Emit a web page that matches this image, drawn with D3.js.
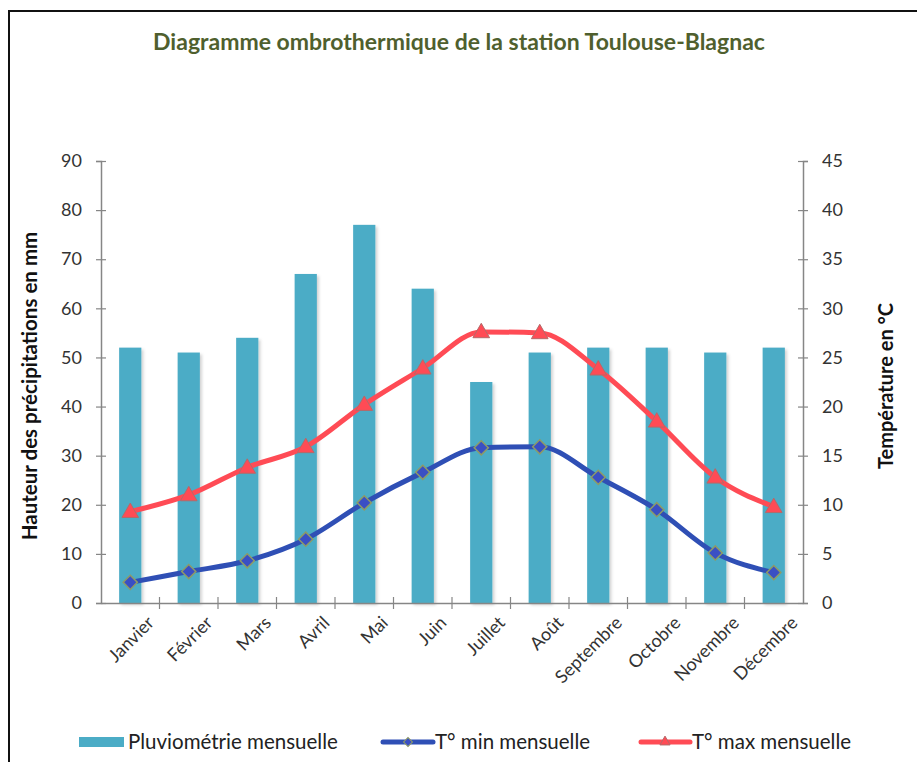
<!DOCTYPE html>
<html>
<head>
<meta charset="utf-8">
<script src="https://cdn.jsdelivr.net/npm/d3@7"></script>
<style>
  body { margin: 0; background: #fff; }
  svg text { font-family: Lato, "Open Sans", sans-serif; }
</style>
</head>
<body>
<div id="chart"></div>
<script>
// Data
const months = ['Janvier', 'Février', 'Mars', 'Avril', 'Mai', 'Juin', 'Juillet', 'Août', 'Septembre', 'Octobre', 'Novembre', 'Décembre'];
const rain = [52, 51, 54, 67, 77, 64, 45, 51, 52, 52, 51, 52];
const tMin = [2.1, 3.2, 4.3, 6.5, 10.2, 13.3, 15.8, 15.9, 12.8, 9.5, 5.1, 3.1];
const tMax = [9.3, 11, 13.8, 15.9, 20.2, 23.9, 27.6, 27.5, 23.8, 18.5, 12.8, 9.8];
const rainTicks = [0, 10, 20, 30, 40, 50, 60, 70, 80, 90];
const tempTicks = [0, 5, 10, 15, 20, 25, 30, 35, 40, 45];

const width = 917;
const height = 762;
const margin = {top: 161, right: 114, bottom: 159, left: 101};

const svg = d3.select('#chart')
  .append('svg')
    .attr('width', width)
    .attr('height', height);

const defs = svg.append('defs');
const shadow = defs.append('filter')
    .attr('id', 'shadow')
    .attr('x', '-30%').attr('y', '-10%')
    .attr('width', '160%').attr('height', '120%');
shadow.append('feDropShadow')
    .attr('dx', 2).attr('dy', 2)
    .attr('stdDeviation', 1.5)
    .attr('flood-color', '#000')
    .attr('flood-opacity', 0.18);

// frame
svg.append('path')
    .attr('d', `M9,${height} V11 H${width}`)
    .attr('fill', 'none')
    .attr('stroke', '#111')
    .attr('stroke-width', 2);

// title
svg.append('text')
    .attr('x', 459)
    .attr('y', 50)
    .attr('text-anchor', 'middle')
    .attr('fill', '#4f5f2e')
    .style('font-size', '23px')
    .style('font-weight', 700)
    .text('Diagramme ombrothermique de la station Toulouse-Blagnac');

const xScale = d3.scaleBand()
  .domain(months)
  .range([margin.left, width - margin.right]);

const yRain = d3.scaleLinear()
  .domain([0, 90])
  .range([height - margin.bottom, margin.top]);

const yTemp = d3.scaleLinear()
  .domain([0, 45])
  .range([height - margin.bottom, margin.top]);

// bars
const barW = xScale.bandwidth() * 0.38;
svg.append('g')
    .attr('class', 'bars')
    .attr('filter', 'url(#shadow)')
  .selectAll('rect')
  .data(rain)
  .join('rect')
    .attr('x', (d, i) => xScale(months[i]) + xScale.bandwidth() / 2 - barW / 2)
    .attr('y', d => yRain(d))
    .attr('width', barW)
    .attr('height', d => yRain(0) - yRain(d))
    .attr('fill', '#4bacc6');

// axes
const axisColor = '#868686';
const leftAxis = svg.append('g')
    .attr('transform', `translate(${margin.left},0)`)
    .call(d3.axisLeft(yRain).tickValues(rainTicks).tickSize(5).tickPadding(14));
const rightAxis = svg.append('g')
    .attr('transform', `translate(${width - margin.right},0)`)
    .call(d3.axisRight(yTemp).tickValues(tempTicks).tickSize(5).tickPadding(14));
const bottomAxis = svg.append('g')
    .attr('transform', `translate(0,${height - margin.bottom})`)
    .call(d3.axisBottom(xScale).tickSize(0).tickFormat(''));

[leftAxis, rightAxis].forEach(g => {
  g.select('.domain').attr('stroke', axisColor).attr('stroke-width', 1.5);
  g.selectAll('.tick line').attr('stroke', axisColor).attr('x1', -5).attr('x2', 5).attr('stroke-width', 1.2);
  g.selectAll('.tick text')
      .attr('fill', '#333')
      .style('font-size', '18px');
});
bottomAxis.select('.domain').attr('stroke', axisColor).attr('stroke-width', 1.5);

// category separator ticks on the x axis
const sepTicks = d3.range(1, months.length).map(i => xScale(months[i]));
bottomAxis.selectAll('.sep')
  .data(sepTicks)
  .join('line')
    .attr('class', 'sep')
    .attr('x1', d => d).attr('x2', d => d)
    .attr('y1', -6).attr('y2', 6)
    .attr('stroke', axisColor)
    .attr('stroke-width', 1.2);

// month labels
svg.append('g')
  .selectAll('text')
  .data(months)
  .join('text')
    .attr('transform', d => `translate(${xScale(d) + xScale.bandwidth() / 2 + 16},${height - margin.bottom + 12}) rotate(-45)`)
    .attr('text-anchor', 'end')
    .attr('dy', '0.7em')
    .attr('fill', '#333')
    .style('font-size', '18px')
    .text(d => d);

// axis titles
svg.append('text')
    .attr('transform', `translate(37,${(yRain(0) + yRain(90)) / 2 + 4}) rotate(-90)`)
    .attr('text-anchor', 'middle')
    .attr('fill', '#111')
    .style('font-size', '20.5px')
    .style('font-weight', 700)
    .text('Hauteur des précipitations en mm');
svg.append('text')
    .attr('transform', `translate(893,${(yTemp(0) + yTemp(45)) / 2 + 4}) rotate(-90)`)
    .attr('text-anchor', 'middle')
    .attr('fill', '#111')
    .style('font-size', '20px')
    .style('font-weight', 700)
    .text('Température en °C');

// temperature lines
const cx = i => xScale(months[i]) + xScale.bandwidth() / 2;
const line = d3.line()
  .x((d, i) => cx(i))
  .y(d => yTemp(d))
  .curve(d3.curveMonotoneX);

const minColor = '#2f4fb5';
const maxColor = '#ff4b55';

svg.append('path')
    .datum(tMin)
    .attr('d', line)
    .attr('fill', 'none')
    .attr('stroke', minColor)
    .attr('stroke-width', 5)
    .attr('stroke-linejoin', 'round');
svg.append('path')
    .datum(tMax)
    .attr('d', line)
    .attr('fill', 'none')
    .attr('stroke', maxColor)
    .attr('stroke-width', 5)
    .attr('stroke-linejoin', 'round');

// diamond = square turned by 45 degrees
const diamond = d3.symbol().type(d3.symbolSquare).size(100);
const triangle = d3.symbol().type(d3.symbolTriangle).size(120);

svg.append('g')
  .selectAll('path')
  .data(tMin)
  .join('path')
    .attr('transform', (d, i) => `translate(${cx(i)},${yTemp(d)}) rotate(45)`)
    .attr('d', diamond)
    .attr('fill', '#3a4fc4')
    .attr('stroke', '#8e9a66')
    .attr('stroke-width', 1.5);
svg.append('g')
  .selectAll('path')
  .data(tMax)
  .join('path')
    .attr('transform', (d, i) => `translate(${cx(i)},${yTemp(d) + 1})`)
    .attr('d', triangle)
    .attr('fill', maxColor)
    .attr('stroke', '#b36a6a')
    .attr('stroke-width', 1);

// legend
const legendY = 742;
const legend = svg.append('g');
legend.append('rect')
    .attr('x', 79).attr('y', legendY - 5)
    .attr('width', 45).attr('height', 10)
    .attr('fill', '#4bacc6');
legend.append('text')
    .attr('x', 128).attr('y', legendY + 7)
    .attr('fill', '#222')
    .style('font-size', '20.5px')
    .text('Pluviométrie mensuelle');

legend.append('line')
    .attr('x1', 383).attr('x2', 433)
    .attr('y1', legendY).attr('y2', legendY)
    .attr('stroke', minColor).attr('stroke-width', 5).attr('stroke-linecap', 'round');
legend.append('path')
    .attr('transform', `translate(408,${legendY}) rotate(45)`)
    .attr('d', d3.symbol().type(d3.symbolSquare).size(40))
    .attr('fill', '#3a4fc4').attr('stroke', '#8e9a66');
legend.append('text')
    .attr('x', 435).attr('y', legendY + 7)
    .attr('fill', '#222')
    .style('font-size', '20.5px')
    .text('T° min mensuelle');

legend.append('line')
    .attr('x1', 641).attr('x2', 690)
    .attr('y1', legendY).attr('y2', legendY)
    .attr('stroke', maxColor).attr('stroke-width', 5).attr('stroke-linecap', 'round');
legend.append('path')
    .attr('transform', `translate(665,${legendY})`)
    .attr('d', d3.symbol().type(d3.symbolTriangle).size(45))
    .attr('fill', maxColor).attr('stroke', '#b36a6a');
legend.append('text')
    .attr('x', 692).attr('y', legendY + 7)
    .attr('fill', '#222')
    .style('font-size', '20.5px')
    .text('T° max mensuelle');
</script>
</body>
</html>
